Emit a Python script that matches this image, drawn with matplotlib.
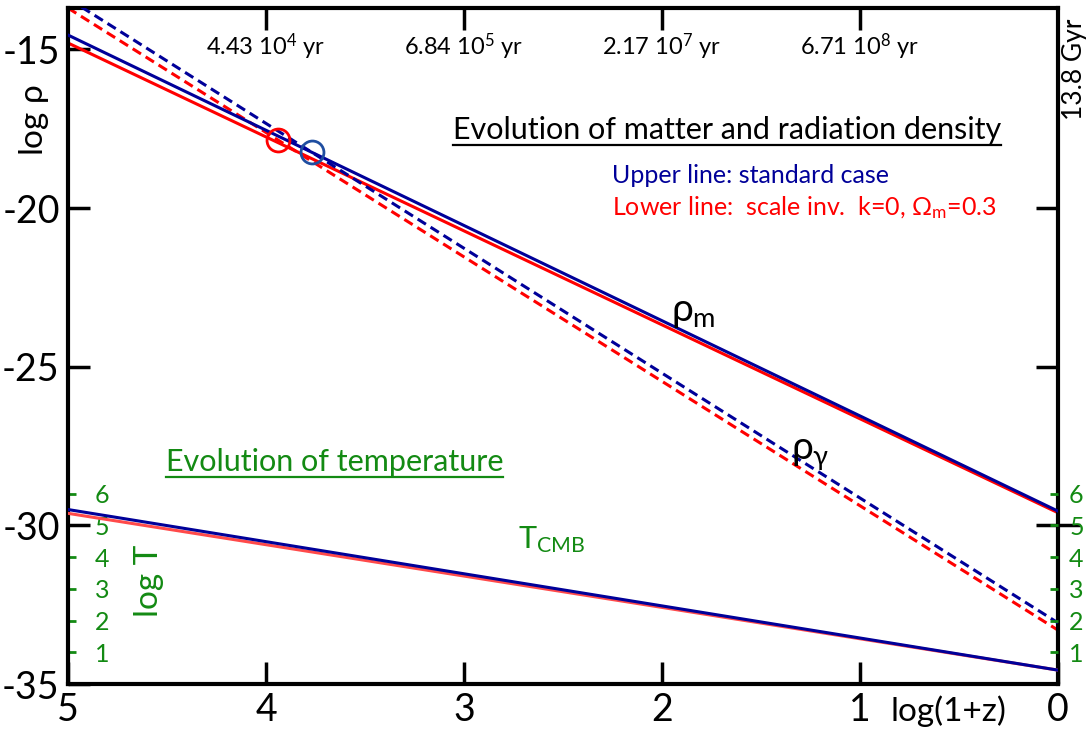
import numpy as np
import matplotlib
matplotlib.use('agg')
import matplotlib.pyplot as plt
from matplotlib.lines import Line2D

## Data
x_end = [5, 0]                       # log(1+z) at both ends of each line
rho_m_std = [-14.55, -29.55]         # matter density, standard case
rho_m_si = [-14.80, -29.60]          # matter density, scale invariant
rho_g_std = [-13.40, -33.07]         # radiation density, standard case
rho_g_si = [-13.70, -33.30]          # radiation density, scale invariant
logT_std = [5.50, 0.44]              # CMB temperature, standard case
logT_si = [5.38, 0.44]               # CMB temperature, scale invariant
eq_std = (3.77, -18.24)              # matter-radiation equality, standard
eq_si = (3.94, -17.86)               # matter-radiation equality, scale inv.

age_ticks = [4, 3, 2, 1]
age_labels = ['4.43 10$^4$ yr', '6.84 10$^5$ yr', '2.17 10$^7$ yr', '6.71 10$^8$ yr']
rho_ticks = [-15, -20, -25, -30, -35]
T_ticks = [1, 2, 3, 4, 5, 6]

blue = '#000099'
red = '#ff0000'
green = '#138a13'

plt.rcParams['font.family'] = ['Lato', 'DejaVu Sans']
plt.rcParams['mathtext.fontset'] = 'custom'
plt.rcParams['mathtext.rm'] = 'Lato'
plt.rcParams['mathtext.it'] = 'Lato'
plt.rcParams['axes.unicode_minus'] = False

fig = plt.figure(figsize=(10.9, 7.34), dpi=100)
ax = fig.add_axes([0.0624, 0.068, 0.9082, 0.921])

lw = 2.2
ax.plot(x_end, rho_m_std, color=blue, lw=lw, zorder=3)
ax.plot(x_end, rho_m_si, color=red, lw=lw, zorder=2)
ax.plot(x_end, rho_g_std, color=blue, lw=lw, ls=(0, (3.2, 1.8)), zorder=3)
ax.plot(x_end, rho_g_si, color=red, lw=lw, ls=(0, (3.2, 1.8)), zorder=2)
ax.plot(*eq_si, 'o', ms=16.5, mfc='none', mec=red, mew=2.0, zorder=4)
ax.plot(*eq_std, 'o', ms=16.5, mfc='none', mec='#1f4ea0', mew=2.0, zorder=4)

ax.set_xlim(5, 0)
ax.set_ylim(-35, -13.7)
for s in ax.spines.values():
    s.set_linewidth(3)

ax.set_xticks([5, 4, 3, 2, 1, 0])
ax.set_xticklabels(['5', '4', '3', '2', '1', '0'])
ax.set_yticks(rho_ticks)
ax.tick_params(axis='both', direction='in', length=16, width=2.5, labelsize=27, pad=6)

# black ticks on the right spine
axR = ax.secondary_yaxis('right')
axR.set_yticks([-20, -25], labels=['', ''])
axR.tick_params(direction='in', length=16, width=2.5)
axR.spines['right'].set_visible(False)
axR2 = ax.secondary_yaxis('right')
axR2.set_yticks([-30], labels=[''])
axR2.tick_params(direction='inout', length=32, width=2.5)
axR2.spines['right'].set_visible(False)

# temperature axis (right side, green)
axT = ax.twinx()
axT.plot(x_end, logT_std, color=blue, lw=lw, zorder=3)
axT.plot(x_end, logT_si, color='#ff4a4a', lw=lw, zorder=2)
axT.set_ylim(0, 21.3)
axT.set_yticks(T_ticks)
axT.tick_params(axis='y', direction='in', length=6, width=2, colors=green,
                labelsize=18, pad=8)
for s in axT.spines.values():
    s.set_visible(False)

# temperature axis (left side, labels inside)
axTl = ax.secondary_yaxis('left', functions=(lambda y: y + 35, lambda t: t - 35))
axTl.set_yticks(T_ticks)
axTl.tick_params(axis='y', direction='in', length=6, width=2, colors=green,
                 labelsize=18, pad=-30)
axTl.spines['left'].set_visible(False)

# age axis on top
axt = ax.secondary_xaxis('top')
axt.set_xticks(age_ticks, labels=age_labels)
axt.tick_params(axis='x', direction='in', length=16, width=2.5, labelsize=17, pad=-39)
axt.spines['top'].set_visible(False)

ax.text(1.017, 0.985, '13.8 Gyr', transform=ax.transAxes, rotation=90,
        ha='center', va='top', fontsize=19)
ax.text(-0.034, 0.835, r'log $\rho$', transform=ax.transAxes, rotation=90,
        ha='center', va='center', fontsize=24)
ax.annotate('log(1+z)', xy=(0.555, 0), xycoords=('data', 'axes fraction'),
            xytext=(0, -8), textcoords='offset points', ha='center', va='top',
            fontsize=24)

t1 = ax.text(1.67, -17.55, 'Evolution of matter and radiation density',
             ha='center', va='center', fontsize=22)
ax.text(2.25, -18.96, 'Upper line: standard case', color=blue,
        ha='left', va='center', fontsize=18)
ax.text(2.25, -20.0, r'Lower line:  scale inv.  k=0, $\Omega_\mathrm{m}$=0.3', color=red,
        ha='left', va='center', fontsize=18)
ax.text(1.84, -23.27, r'$\rho_\mathrm{m}$', ha='center', va='center', fontsize=28)
ax.text(1.25, -27.77, r'$\rho_\gamma$', ha='center', va='center', fontsize=28)
t2 = ax.text(3.655, -27.99, 'Evolution of temperature', color=green,
             ha='center', va='center', fontsize=22)
ax.text(4.59, -31.76, 'log T', color=green, rotation=90,
        ha='center', va='center', fontsize=24)
ax.text(2.56, -30.44, r'T$_\mathrm{CMB}$', color=green,
        ha='center', va='center', fontsize=22)

# underline the two headings
fig.canvas.draw()
inv = fig.transFigure.inverted()
for t, c in [(t1, 'black'), (t2, green)]:
    bb = t.get_window_extent()
    (x0, y0), (x1, _) = inv.transform([[bb.x0, bb.y0 - 1], [bb.x1, bb.y0]])
    fig.add_artist(Line2D([x0, x1], [y0, y0], color=c, lw=1.6, transform=fig.transFigure))

plt.savefig('out.png', dpi=100)
